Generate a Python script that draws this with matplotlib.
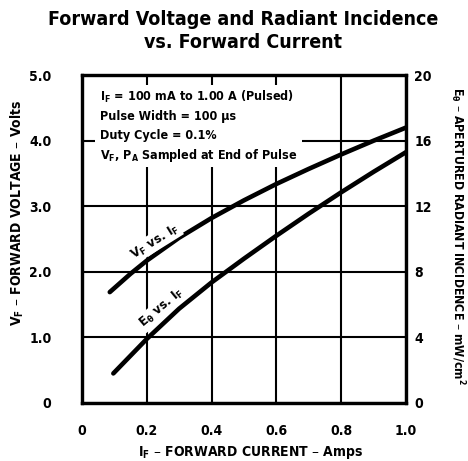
import matplotlib
matplotlib.use("Agg")
import matplotlib.pyplot as plt
from matplotlib.patches import Rectangle

plt.rcParams['font.family'] = ['DejaVu Sans']
plt.rcParams['font.stretch'] = 'condensed'
plt.rcParams['font.weight'] = 'bold'
plt.rcParams['mathtext.default'] = 'regular'

# data
i_f = [0.086, 0.15, 0.2, 0.3, 0.4, 0.5, 0.6, 0.7, 0.8, 0.9, 1.0]
v_f = [1.69, 1.97, 2.17, 2.52, 2.82, 3.09, 3.34, 3.57, 3.79, 4.0, 4.2]
i_e = [0.097, 0.2, 0.3, 0.4, 0.5, 0.6, 0.7, 0.8, 0.9, 1.0]
e_theta = [1.8, 3.9, 5.75, 7.35, 8.8, 10.2, 11.55, 12.85, 14.1, 15.3]

x_ticks = [0, 0.2, 0.4, 0.6, 0.8, 1.0]
x_labels = ["0", "0.2", "0.4", "0.6", "0.8", "1.0"]
v_ticks = [0, 1, 2, 3, 4, 5]
v_labels = ["0", "1.0", "2.0", "3.0", "4.0", "5.0"]
e_ticks = [0, 4, 8, 12, 16, 20]
e_labels = ["0", "4", "8", "12", "16", "20"]

notes = ["I$_F$ = 100 mA to 1.00 A (Pulsed)",
         "Pulse Width = 100 \u03bcs",
         "Duty Cycle = 0.1%",
         "V$_F$, P$_A$ Sampled at End of Pulse"]

fig = plt.figure(figsize=(4.68, 4.61), dpi=100)
ax = fig.add_axes([0.175, 0.126, 0.6925, 0.711])
ax2 = ax.twinx()

ax.set_xlim(0, 1.0)
ax.set_ylim(0, 5.0)
ax2.set_ylim(0, 20)

ax.set_xticks(x_ticks)
ax.set_xticklabels(x_labels)
ax.set_yticks(v_ticks)
ax.set_yticklabels(v_labels)
ax2.set_yticks(e_ticks)
ax2.set_yticklabels(e_labels)

ax.tick_params(axis='x', length=0, pad=15, labelsize=10)
ax.tick_params(axis='y', length=0, pad=22, labelsize=10)
ax2.tick_params(axis='y', length=0, pad=6, labelsize=10)

ax.grid(True, color='black', linewidth=1.5)
ax.set_axisbelow(True)
for a in (ax, ax2):
    for s in a.spines.values():
        s.set_linewidth(2.3)

# white area behind the note text
ax.add_patch(Rectangle((0.04, 3.6), 0.64, 1.25, facecolor='white',
                       edgecolor='none', zorder=1.5))

ax.plot(i_f, v_f, color='black', linewidth=3.3, solid_capstyle='round', zorder=3)
ax2.plot(i_e, e_theta, color='black', linewidth=3.3, solid_capstyle='round', zorder=3)

for k, line in enumerate(notes):
    ax.text(0.056, 4.66 - k * 0.293, line, fontsize=9, fontweight='bold',
            va='center', ha='left', zorder=4)

lbl_box = dict(facecolor='white', edgecolor='none', pad=1.0)
ax.text(0.225, 2.46, "V$_F$ vs. I$_F$", rotation=32, fontsize=9.5,
        ha='center', va='center', bbox=lbl_box, zorder=4)
ax.text(0.246, 1.44, "E$_\u03b8$ vs. I$_F$", rotation=40, fontsize=9.5,
        ha='center', va='center', bbox=lbl_box, zorder=4)

ax.set_xlabel("I$_F$ \u2013 FORWARD CURRENT \u2013 Amps", fontsize=10,
              fontweight='bold', va='center')
ax.xaxis.set_label_coords(0.52, -0.152)
ax.set_ylabel("V$_F$ \u2013 FORWARD VOLTAGE \u2013 Volts", fontsize=10,
              fontweight='bold', va='center')
ax.yaxis.set_label_coords(-0.2, 0.58)
ax2.set_ylabel("E$_\u03b8$ \u2013 APERTURED RADIANT INCIDENCE \u2013 mW/cm$^2$",
               fontsize=8.8, fontweight='bold', rotation=270, va='center')
ax2.yaxis.set_label_coords(1.16, 0.51)

fig.suptitle("Forward Voltage and Radiant Incidence\nvs. Forward Current",
             fontsize=14, fontweight='bold', x=0.52, y=0.978, linespacing=1.25)

fig.savefig("out.png", dpi=100)
